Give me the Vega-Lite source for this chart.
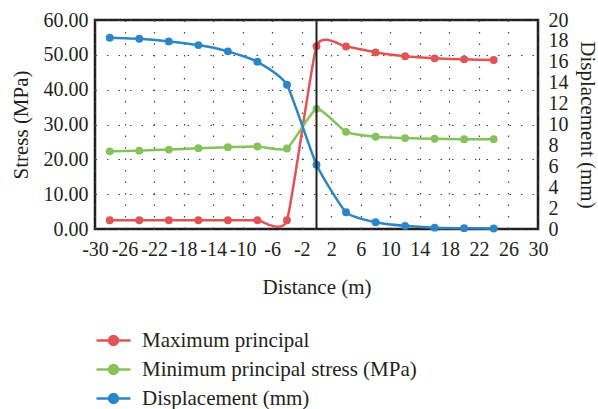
{
  "$schema": "https://vega.github.io/schema/vega-lite/v6.json",
  "width": 443,
  "height": 209,
  "autosize": "none",
  "padding": {"left": 95, "top": 20, "right": 60, "bottom": 180},
  "background": "white",
  "config": {
    "font": "Liberation Serif",
    "view": {"stroke": "#231f20", "strokeWidth": 2.5},
    "axis": {
      "labelFont": "Liberation Serif",
      "titleFont": "Liberation Serif",
      "labelFontSize": 20,
      "titleFontSize": 21,
      "titleFontWeight": "normal",
      "labelColor": "#231f20",
      "titleColor": "#231f20",
      "domain": false,
      "ticks": false,
      "labelFlush": false,
      "gridColor": "#444",
      "gridDash": [1.5, 10],
      "gridWidth": 1.2
    },
    "legend": {
      "labelFont": "Liberation Serif",
      "labelFontSize": 21,
      "labelColor": "#231f20",
      "labelLimit": 500
    }
  },
  "data": {
    "values": [
      {"series": "Maximum principal", "distance": -28, "value": 2.5},
      {"series": "Maximum principal", "distance": -24, "value": 2.5},
      {"series": "Maximum principal", "distance": -20, "value": 2.5},
      {"series": "Maximum principal", "distance": -16, "value": 2.5},
      {"series": "Maximum principal", "distance": -12, "value": 2.5},
      {"series": "Maximum principal", "distance": -8, "value": 2.5},
      {"series": "Maximum principal", "distance": -4, "value": 2.5},
      {"series": "Maximum principal", "distance": 0, "value": 52.5},
      {"series": "Maximum principal", "distance": 4, "value": 52.4},
      {"series": "Maximum principal", "distance": 8, "value": 50.7},
      {"series": "Maximum principal", "distance": 12, "value": 49.6},
      {"series": "Maximum principal", "distance": 16, "value": 49.0},
      {"series": "Maximum principal", "distance": 20, "value": 48.7},
      {"series": "Maximum principal", "distance": 24, "value": 48.5},
      {"series": "Minimum principal stress (MPa)", "distance": -28, "value": 22.3},
      {"series": "Minimum principal stress (MPa)", "distance": -24, "value": 22.5},
      {"series": "Minimum principal stress (MPa)", "distance": -20, "value": 22.8},
      {"series": "Minimum principal stress (MPa)", "distance": -16, "value": 23.2},
      {"series": "Minimum principal stress (MPa)", "distance": -12, "value": 23.5},
      {"series": "Minimum principal stress (MPa)", "distance": -8, "value": 23.7},
      {"series": "Minimum principal stress (MPa)", "distance": -4, "value": 23.1},
      {"series": "Minimum principal stress (MPa)", "distance": 0, "value": 34.5},
      {"series": "Minimum principal stress (MPa)", "distance": 4, "value": 27.9},
      {"series": "Minimum principal stress (MPa)", "distance": 8, "value": 26.5},
      {"series": "Minimum principal stress (MPa)", "distance": 12, "value": 26.1},
      {"series": "Minimum principal stress (MPa)", "distance": 16, "value": 25.9},
      {"series": "Minimum principal stress (MPa)", "distance": 20, "value": 25.8},
      {"series": "Minimum principal stress (MPa)", "distance": 24, "value": 25.8},
      {"series": "Displacement (mm)", "distance": -28, "value": 18.3},
      {"series": "Displacement (mm)", "distance": -24, "value": 18.2},
      {"series": "Displacement (mm)", "distance": -20, "value": 17.95},
      {"series": "Displacement (mm)", "distance": -16, "value": 17.6},
      {"series": "Displacement (mm)", "distance": -12, "value": 17.0},
      {"series": "Displacement (mm)", "distance": -8, "value": 16.0},
      {"series": "Displacement (mm)", "distance": -4, "value": 13.8},
      {"series": "Displacement (mm)", "distance": 0, "value": 6.15},
      {"series": "Displacement (mm)", "distance": 4, "value": 1.6},
      {"series": "Displacement (mm)", "distance": 8, "value": 0.65},
      {"series": "Displacement (mm)", "distance": 12, "value": 0.3},
      {"series": "Displacement (mm)", "distance": 16, "value": 0.13},
      {"series": "Displacement (mm)", "distance": 20, "value": 0.08},
      {"series": "Displacement (mm)", "distance": 24, "value": 0.05}
    ]
  },
  "encoding": {
    "x": {
      "field": "distance",
      "type": "quantitative",
      "scale": {"domain": [-30, 30], "nice": false, "zero": false},
      "axis": {
        "values": [-30, -26, -22, -18, -14, -10, -6, -2, 2, 6, 10, 14, 18, 22, 26, 30],
        "labelExpr": "'' + datum.value",
        "labelPadding": 10,
        "labelFlush": false,
        "title": "Distance (m)",
        "titlePadding": 17,
        "grid": true,
        "labelOverlap": false
      }
    }
  },
  "layer": [
    {
      "transform": [{"filter": "datum.series !== 'Displacement (mm)'"}],
      "mark": {"type": "line", "interpolate": "cardinal", "tension": 0.5, "strokeWidth": 2.5, "point": {"size": 62, "filled": true, "opacity": 1}},
      "encoding": {
        "y": {
          "field": "value",
          "type": "quantitative",
          "scale": {"domain": [0, 60], "nice": false},
          "axis": {
            "values": [0, 10, 20, 30, 40, 50, 60],
            "format": ".2f",
            "orient": "left",
            "labelPadding": 7,
            "title": "Stress (MPa)",
            "titlePadding": 12,
            "grid": true
          }
        },
        "color": {
          "field": "series",
          "type": "nominal",
          "scale": {
            "domain": ["Maximum principal", "Minimum principal stress (MPa)", "Displacement (mm)"],
            "range": ["#e05454", "#86c25a", "#2d85c6"]
          },
          "legend": {
            "title": null,
            "orient": "none",
            "legendX": 0,
            "legendY": 302,
            "direction": "vertical",
            "padding": 0,
            "symbolType": "M-1,0L1,0M0.26,0A0.26,0.26 0 1 1 -0.26,0A0.26,0.26 0 1 1 0.26,0Z",
            "symbolSize": 1156,
            "symbolStrokeWidth": 2.5,
            "labelOffset": 10,
            "rowPadding": -6,
            "encode": {
              "symbols": {
                "update": {
                  "fill": {"scale": "color", "field": "value"},
                  "stroke": {"scale": "color", "field": "value"},
                  "strokeWidth": {"value": 2.5},
                  "opacity": {"value": 1}
                }
              }
            }
          }
        },
        "detail": {"field": "series"}
      }
    },
    {
      "transform": [{"filter": "datum.series === 'Displacement (mm)'"}],
      "mark": {"type": "line", "interpolate": "cardinal", "tension": 0.5, "strokeWidth": 2.5, "point": {"size": 62, "filled": true, "opacity": 1}},
      "encoding": {
        "y": {
          "field": "value",
          "type": "quantitative",
          "scale": {"domain": [0, 20], "nice": false},
          "axis": {
            "values": [0, 2, 4, 6, 8, 10, 12, 14, 16, 18, 20],
            "format": "d",
            "orient": "right",
            "labelPadding": 10,
            "title": "Displacement (mm)",
            "titlePadding": 8,
            "grid": false
          }
        },
        "color": {"field": "series", "type": "nominal"}
      }
    },
    {
      "data": {"values": [{"distance": 0}]},
      "mark": {"type": "rule", "color": "#231f20", "strokeWidth": 2},
      "encoding": {"x": {"field": "distance", "type": "quantitative"}}
    }
  ],
  "resolve": {"scale": {"y": "independent"}}
}
